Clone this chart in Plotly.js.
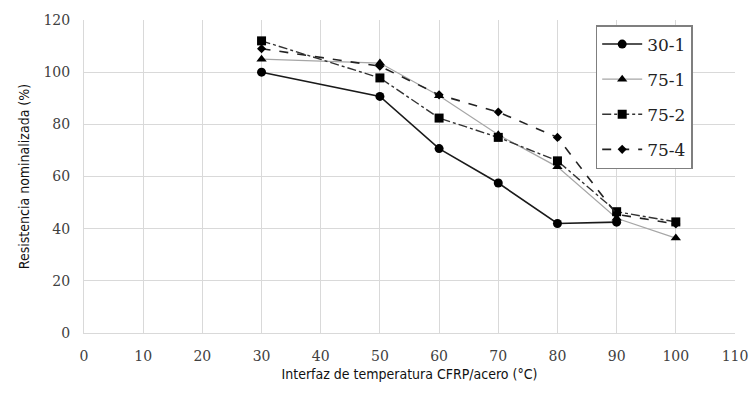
<!DOCTYPE html>
<html><head><meta charset="utf-8">
<script src="https://cdn.plot.ly/plotly-3.0.1.min.js"></script>
<style>body{margin:0;background:#fff}#c{width:749px;height:394px}</style>
</head><body><div id="c"></div>
<script>
const x301 = [30, 50, 60, 70, 80, 90];
const y301 = [100, 90.7, 70.7, 57.5, 42, 42.5];
const x751 = [30, 50, 60, 70, 80, 90, 100];
const y751 = [105, 103.5, 91, 76, 63.7, 44, 36.4];
const x752 = [30, 50, 60, 70, 80, 90, 100];
const y752 = [112, 97.8, 82.4, 75, 66, 46.5, 42.6];
const x754 = [30, 50, 60, 70, 80, 90, 100];
const y754 = [109, 102.3, 91.3, 84.7, 75, 45.5, 41.8];
const names = ["30-1", "75-1", "75-2", "75-4"];
const xTicks = [0,10,20,30,40,50,60,70,80,90,100,110];
const yTicks = [0,20,40,60,80,100,120];

const SERIF = "DejaVu Serif";
const SANS = "DejaVu Sans Condensed";

const traces = [
  {x:x301, y:y301, name:names[0], legendgroup:"a", mode:"lines+markers",
   line:{color:"#1a1a1a", width:1.6, dash:"solid"},
   marker:{symbol:"circle", size:9, color:"#000"}},
  {x:x751, y:y751, name:names[1], legendgroup:"b", mode:"lines+markers",
   line:{color:"#a6a6a6", width:1.2, dash:"solid"},
   marker:{symbol:"triangle-up", size:9, color:"#000"}},
  {x:x752, y:y752, name:names[2], legendgroup:"c", mode:"lines+markers",
   line:{color:"#333", width:1.4, dash:"dashdot"},
   marker:{symbol:"square", size:9, color:"#000"}},
  {x:x754, y:y754, name:names[3], legendgroup:"d", mode:"lines+markers",
   line:{color:"#222", width:1.6, dash:"dash"},
   marker:{symbol:"diamond", size:7, color:"#000"}}
];

const layout = {
  width:749, height:394,
  margin:{l:84, r:14, t:20, b:61},
  paper_bgcolor:"#fff", plot_bgcolor:"#fff",
  showlegend:true,
  legend:{x:0.786, y:0.984, xanchor:"left", yanchor:"top",
    bordercolor:"#7f7f7f", borderwidth:1.5, bgcolor:"#fff",
    font:{family:SERIF, size:17, color:"#222"},
    tracegroupgap:10, itemwidth:40},
  xaxis:{range:[0,110], tickvals:xTicks, ticktext:xTicks.map(String),
    showgrid:true, gridcolor:"#d9d9d9", gridwidth:1, zeroline:false,
    showline:true, linecolor:"#d9d9d9", ticks:"", ticklabelstandoff:10,
    ticklabeloverflow:"allow",
    tickfont:{family:SERIF, size:14, color:"#404040"},
    title:{text:"Interfaz de temperatura CFRP/acero (°C)", standoff:6,
      font:{family:SANS, size:14, color:"#111"}}},
  yaxis:{range:[0,120], tickvals:yTicks, ticktext:yTicks.map(String),
    showgrid:true, gridcolor:"#d9d9d9", gridwidth:1, zeroline:false,
    showline:true, linecolor:"#d9d9d9", ticks:"", ticklabelstandoff:10,
    tickfont:{family:SERIF, size:14, color:"#404040"},
    title:{text:"Resistencia nominalizada (%)", standoff:10,
      font:{family:SANS, size:14, color:"#111"}}}
};
Plotly.newPlot("c", traces, layout, {displayModeBar:false, staticPlot:true});
</script></body></html>
